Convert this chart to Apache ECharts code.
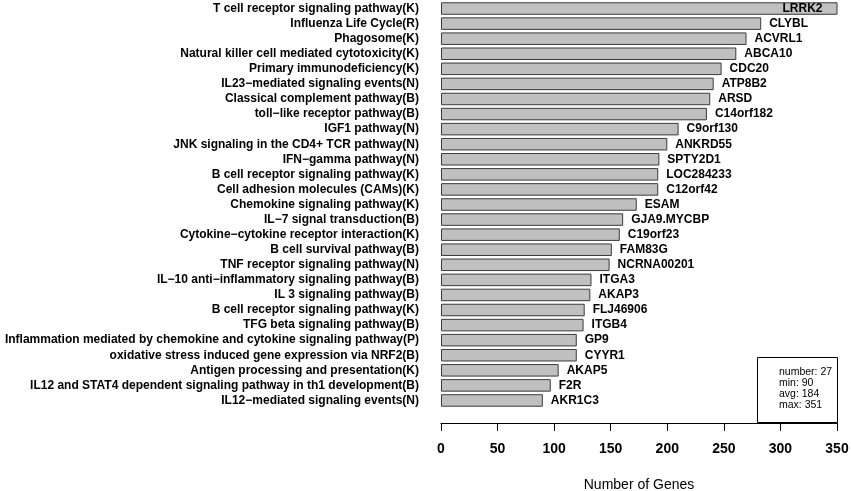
<!DOCTYPE html>
<html>
<head>
<meta charset="utf-8">
<script src="https://cdn.jsdelivr.net/npm/echarts@6/dist/echarts.min.js"></script>
<style>
html,body{margin:0;padding:0;background:#fff;}
#chart{width:851px;height:491px;}
</style>
</head>
<body>
<div id="chart"></div>
<script>
const pathways = [
  "T cell receptor signaling pathway(K)",
  "Influenza Life Cycle(R)",
  "Phagosome(K)",
  "Natural killer cell mediated cytotoxicity(K)",
  "Primary immunodeficiency(K)",
  "IL23\u2212mediated signaling events(N)",
  "Classical complement pathway(B)",
  "toll\u2212like receptor pathway(B)",
  "IGF1 pathway(N)",
  "JNK signaling in the CD4+ TCR pathway(N)",
  "IFN\u2212gamma pathway(N)",
  "B cell receptor signaling pathway(K)",
  "Cell adhesion molecules (CAMs)(K)",
  "Chemokine signaling pathway(K)",
  "IL\u22127 signal transduction(B)",
  "Cytokine\u2212cytokine receptor interaction(K)",
  "B cell survival pathway(B)",
  "TNF receptor signaling pathway(N)",
  "IL\u221210 anti\u2212inflammatory signaling pathway(B)",
  "IL 3 signaling pathway(B)",
  "B cell receptor signaling pathway(K)",
  "TFG beta signaling pathway(B)",
  "Inflammation mediated by chemokine and cytokine signaling pathway(P)",
  "oxidative stress induced gene expression via NRF2(B)",
  "Antigen processing and presentation(K)",
  "IL12 and STAT4 dependent signaling pathway in th1 development(B)",
  "IL12\u2212mediated signaling events(N)"
];
const genes = [
  "LRRK2","CLYBL","ACVRL1","ABCA10","CDC20","ATP8B2","ARSD","C14orf182","C9orf130",
  "ANKRD55","SPTY2D1","LOC284233","C12orf42","ESAM","GJA9.MYCBP","C19orf23","FAM83G",
  "NCRNA00201","ITGA3","AKAP3","FLJ46906","ITGB4","GP9","CYYR1","AKAP5","F2R","AKR1C3"
];
const geneCounts = [
  351,283,270,261,248,241,238,235,210,200,193,192,192,173,161,158,151,149,133,132,127,126,120,120,104,97,90
];
const xTicks = [0,50,100,150,200,250,300,350];

const n = geneCounts.length;
const minV = Math.min(...geneCounts);
const maxV = Math.max(...geneCounts);
const avgV = Math.round(geneCounts.reduce((a,b)=>a+b,0)/n);
const xMax = xTicks[xTicks.length-1];

const FONT = "'Liberation Sans', Arial, sans-serif";

const chart = echarts.init(document.getElementById('chart'), null, {renderer:'canvas'});
chart.setOption({
  animation:false,
  backgroundColor:'#ffffff',
  grid:{left:441, right:14, top:1, height:407, containLabel:false, outerBoundsMode:'none'},
  xAxis:{
    type:'value', min:xTicks[0], max:xMax, interval:xTicks[1]-xTicks[0],
    offset:15,
    axisLine:{show:true, lineStyle:{color:'#000', width:1}},
    axisTick:{show:true, length:8, lineStyle:{color:'#000', width:1}},
    splitLine:{show:false},
    axisLabel:{color:'#000', fontFamily:FONT, fontWeight:'bold', fontSize:14, margin:19},
    name:'Number of Genes', nameLocation:'middle', nameGap:55,
    nameTextStyle:{color:'#000', fontFamily:FONT, fontSize:14}
  },
  yAxis:{
    type:'category', inverse:true, data:pathways,
    axisLine:{show:false}, axisTick:{show:false}, splitLine:{show:false},
    axisLabel:{color:'#000', fontFamily:FONT, fontWeight:'bold', fontSize:12, margin:22, interval:0}
  },
  series:[{
    type:'bar',
    barCategoryGap:'17%',
    data:geneCounts.map((v,i)=>({
      value:v,
      label: v >= xMax ? {position:'insideRight', distance:15} : undefined
    })),
    itemStyle:{color:'#c0c0c0', borderColor:'#3a3a3a', borderWidth:1},
    label:{
      show:true, position:'right', distance:8,
      color:'#000', fontFamily:FONT, fontWeight:'bold', fontSize:12,
      formatter:(p)=>genes[p.dataIndex]
    }
  }],
  graphic:[
    {type:'rect', shape:{x:757.5, y:357.5, width:80, height:65}, style:{fill:'#fff', stroke:'#000', lineWidth:1}, z:100},
    {type:'text', left:779, top:367, z:101,
     style:{text:['number: '+n,'min: '+minV,'avg: '+avgV,'max: '+maxV].join('\n'),
            font:"10.5px "+FONT, fill:'#000', lineHeight:11}}
  ]
});
</script>
</body>
</html>
